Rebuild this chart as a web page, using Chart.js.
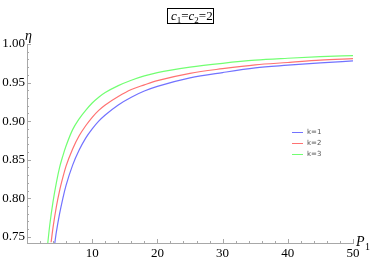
<!DOCTYPE html>
<html lang="en">
<head>
    <meta charset="UTF-8">
    <title>eta vs P1</title>
    <script src="https://cdn.jsdelivr.net/npm/chart.js"></script>
    <style>
        html, body { margin: 0; padding: 0; background: #fff; }
        .wrap { width: 374px; height: 263px; }
    </style>
</head>
<body>
    <div class="wrap"><canvas id="etaChart" width="374" height="263"></canvas></div>

    <script>
        // values
        const seriesLabels = ['k=1', 'k=2', 'k=3'];
        const seriesColors = ['#7272ff', '#ff7272', '#72ff72'];

        const pK1 = [4.2, 4.5, 5, 5.5, 6, 7, 8, 9, 10, 11, 12, 14, 16, 18, 20, 25, 30, 35, 40, 45, 50];
        const etaK1 = [0.738, 0.756, 0.780, 0.800, 0.817, 0.843, 0.8625, 0.878, 0.890, 0.900, 0.908, 0.921, 0.931, 0.939, 0.945, 0.956, 0.963, 0.969, 0.9725, 0.9756, 0.978];

        const pK2 = [3.7, 4, 4.5, 5, 5.5, 6, 7, 8, 9, 10, 11, 12, 14, 16, 18, 20, 25, 30, 35, 40, 45, 50];
        const etaK2 = [0.743, 0.7625, 0.789, 0.810, 0.827, 0.842, 0.864, 0.881, 0.894, 0.905, 0.914, 0.921, 0.932, 0.941, 0.947, 0.9525, 0.962, 0.968, 0.973, 0.976, 0.979, 0.981];

        const pK3 = [3.1, 3.5, 4, 4.5, 5, 5.5, 6, 7, 8, 9, 10, 11, 12, 14, 16, 18, 20, 25, 30, 35, 40, 45, 50];
        const etaK3 = [0.735, 0.766, 0.796, 0.820, 0.840, 0.855, 0.868, 0.889, 0.903, 0.914, 0.9235, 0.931, 0.937, 0.946, 0.953, 0.9586, 0.963, 0.970, 0.975, 0.979, 0.9815, 0.9836, 0.985];

        const xTicks = [10, 20, 30, 40, 50];
        const yTicks = [0.75, 0.80, 0.85, 0.90, 0.95, 1.00];
        const xMinorStep = 2;
        const yMinorStep = 0.01;

        const pSets = [pK1, pK2, pK3];
        const etaSets = [etaK1, etaK2, etaK3];

        const axisGray = '#a8a8a8';
        const serif = "'Liberation Serif', 'DejaVu Serif', serif";

        // minor + major tick marks pointing inward, axis names, title box, legend
        const decorations = {
            id: 'decorations',
            afterDraw(chart) {
                const c = chart.ctx;
                const a = chart.chartArea;
                const xs = chart.scales.x, ys = chart.scales.y;
                c.save();
                c.strokeStyle = axisGray;
                c.lineWidth = 1;
                c.beginPath();
                for (let v = 0; v <= 50.001; v += xMinorStep) {
                    const px = Math.round(xs.getPixelForValue(v)) + 0.5;
                    const len = xTicks.includes(Math.round(v)) ? 4 : 2;
                    c.moveTo(px, a.bottom);
                    c.lineTo(px, a.bottom - len);
                }
                for (let v = 0.75; v <= 1.0001; v += yMinorStep) {
                    const py = Math.round(ys.getPixelForValue(v)) + 0.5;
                    const major = yTicks.some(t => Math.abs(t - v) < 1e-6);
                    c.moveTo(a.left, py);
                    c.lineTo(a.left + (major ? 4 : 2), py);
                }
                c.stroke();

                // axis names
                c.fillStyle = '#000';
                c.textBaseline = 'alphabetic';
                c.font = 'italic 14px ' + serif;
                c.fillText('\u03B7', a.left - 2, a.top - 4);
                c.fillText('P', a.right + 3, a.bottom + 3);
                c.font = '10px ' + serif;
                c.fillText('1', a.right + 12, a.bottom + 7);

                // title box
                const bx = 167, by = 8, bw = 46, bh = 15;
                c.strokeStyle = '#000';
                c.strokeRect(bx + 0.5, by + 0.5, bw, bh);
                let tx = bx + 4;
                const ty = by + 12;
                const parts = [
                    ['italic 13px ', 'c', 0], ['9px ', '1', 3], ['13px ', '=', 0],
                    ['italic 13px ', 'c', 0], ['9px ', '2', 3], ['13px ', '=2', 0]
                ];
                parts.forEach(([f, t, dy]) => {
                    c.font = f + serif;
                    c.fillText(t, tx, ty + dy);
                    tx += c.measureText(t).width;
                });

                // legend
                c.font = '7px ' + "'DejaVu Sans', sans-serif";
                c.textBaseline = 'middle';
                seriesLabels.forEach((lab, i) => {
                    const ly = 132 + i * 11 + 0.5;
                    c.strokeStyle = seriesColors[i];
                    c.beginPath();
                    c.moveTo(292, ly);
                    c.lineTo(303, ly);
                    c.stroke();
                    c.fillStyle = '#555';
                    c.fillText(lab, 307, ly);
                });
                c.restore();
            }
        };

        const ctx = document.getElementById('etaChart').getContext('2d');
        const chart = new Chart(ctx, {
            type: 'line',
            data: {
                datasets: seriesLabels.map((lab, i) => ({
                    label: lab,
                    data: pSets[i].map((p, j) => ({ x: p, y: etaSets[i][j] })),
                    borderColor: seriesColors[i],
                    borderWidth: 1.2,
                    pointRadius: 0,
                    fill: false,
                    cubicInterpolationMode: 'monotone'
                }))
            },
            options: {
                responsive: false,
                animation: false,
                layout: { padding: { top: 44, right: 21, left: 0, bottom: 0 } },
                plugins: {
                    legend: { display: false },
                    tooltip: { enabled: false }
                },
                scales: {
                    x: {
                        type: 'linear',
                        min: 0,
                        max: 50,
                        grid: { display: false, drawTicks: false },
                        border: { display: true, color: axisGray },
                        afterBuildTicks: s => { s.ticks = xTicks.map(v => ({ value: v })); },
                        afterFit: s => { s.height = 20; },
                        ticks: {
                            padding: 3,
                            maxRotation: 0,
                            color: '#000',
                            font: { family: serif, size: 13 }
                        }
                    },
                    y: {
                        type: 'linear',
                        min: 0.742,
                        max: 1.0,
                        grid: { display: false, drawTicks: false },
                        border: { display: true, color: axisGray },
                        afterBuildTicks: s => { s.ticks = yTicks.map(v => ({ value: v })); },
                        afterFit: s => { s.width = 27; },
                        ticks: {
                            padding: 2,
                            color: '#000',
                            font: { family: serif, size: 13 },
                            callback: v => Number(v).toFixed(2)
                        }
                    }
                }
            },
            plugins: [decorations]
        });
    </script>
</body>
</html>
